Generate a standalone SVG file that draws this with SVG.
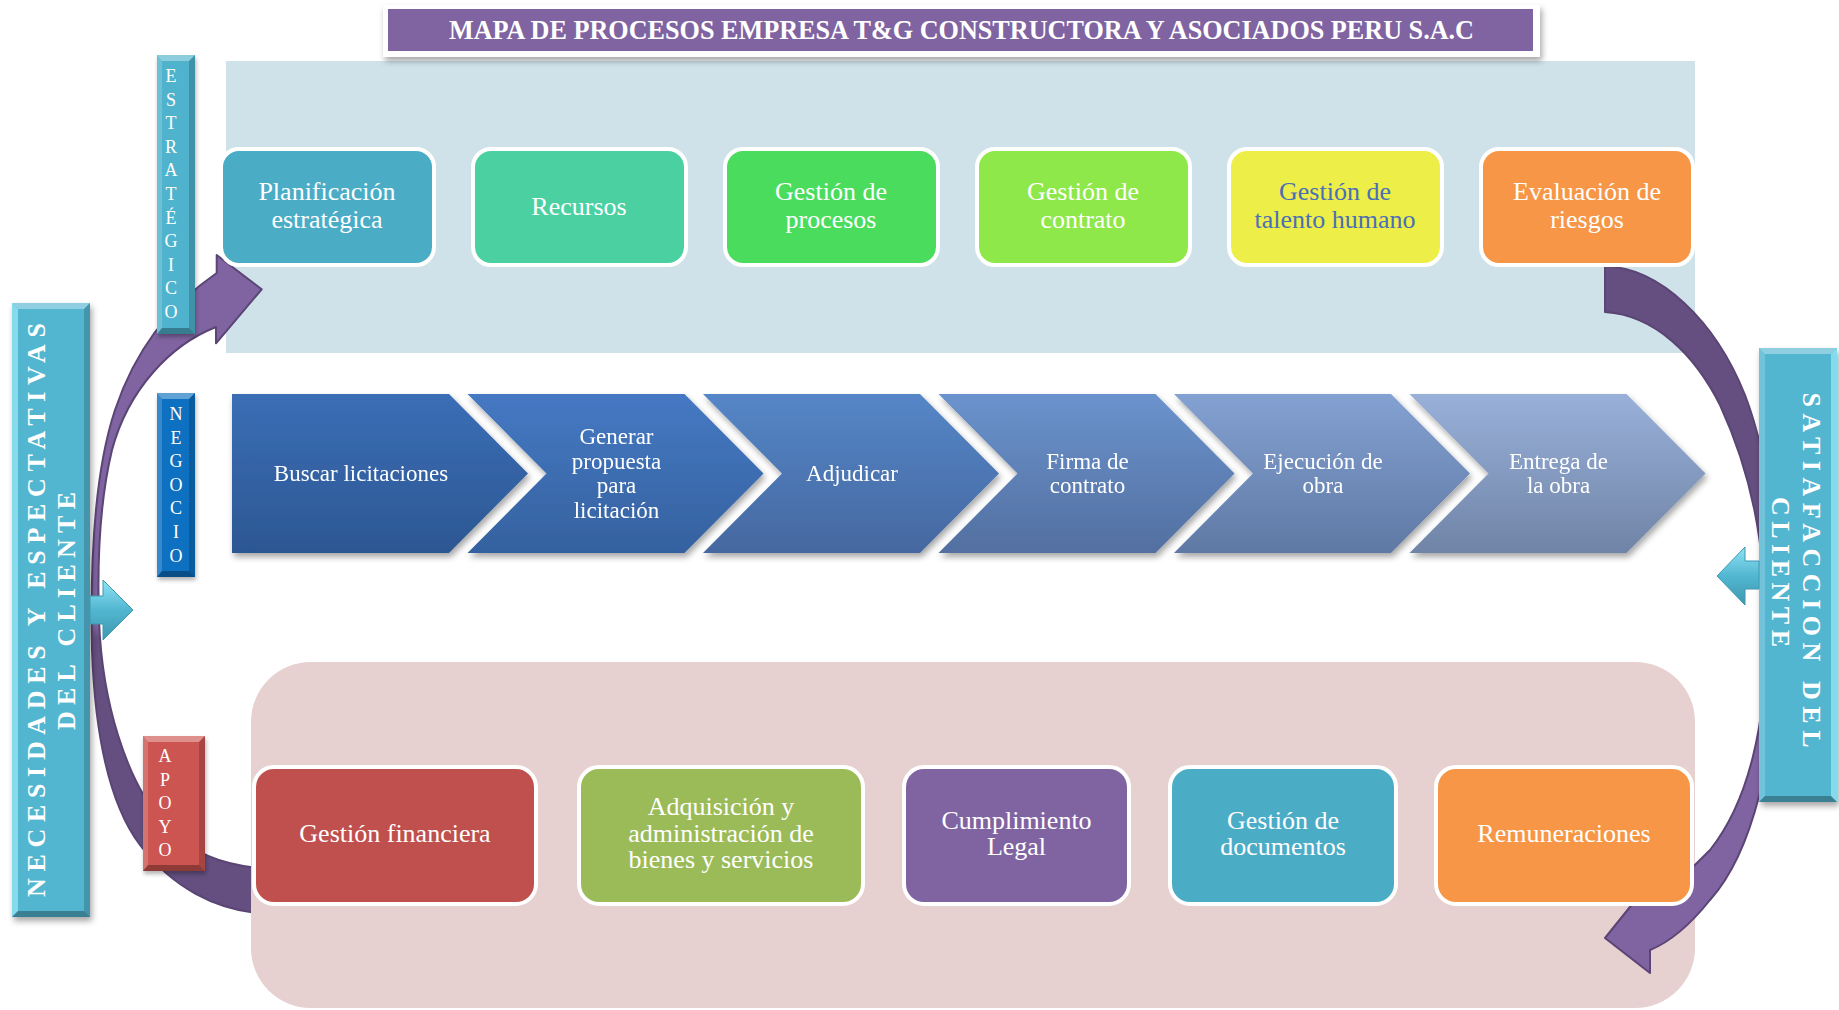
<svg xmlns="http://www.w3.org/2000/svg" width="1839" height="1010" viewBox="0 0 1839 1010">
<defs>
<style>
.t{font-family:"Liberation Serif","Times New Roman",serif;fill:#fff;text-anchor:middle}
.s26{font-size:26px}
.s23{font-size:23px}
.lab{font-size:18px}
.bar{font-size:26px;font-weight:bold}
.box{stroke:#fff;stroke-width:4}
.hl{fill:#fff;fill-opacity:.35}
.hl2{fill:#fff;fill-opacity:.18}
.dk{fill:#000;fill-opacity:.18}
.dk2{fill:#000;fill-opacity:.3}
.arc{stroke:#5a4574;stroke-width:2;stroke-linejoin:round}
</style>
<filter id="sh" x="-20%" y="-20%" width="140%" height="140%"><feDropShadow dx="2" dy="4" stdDeviation="3" flood-color="#000" flood-opacity=".35"/></filter>
<filter id="shs" x="-20%" y="-20%" width="140%" height="140%"><feDropShadow dx="1" dy="3" stdDeviation="2" flood-color="#000" flood-opacity=".3"/></filter>
<linearGradient id="c1" x1="0" y1="0" x2="0" y2="1"><stop offset="0" stop-color="#3b6eb6"/><stop offset="1" stop-color="#2c5792"/></linearGradient>
<linearGradient id="c2" x1="0" y1="0" x2="0" y2="1"><stop offset="0" stop-color="#4579c3"/><stop offset="1" stop-color="#35619f"/></linearGradient>
<linearGradient id="c3" x1="0" y1="0" x2="0" y2="1"><stop offset="0" stop-color="#5586c7"/><stop offset="1" stop-color="#4568a0"/></linearGradient>
<linearGradient id="c4" x1="0" y1="0" x2="0" y2="1"><stop offset="0" stop-color="#6b93cd"/><stop offset="1" stop-color="#526fa0"/></linearGradient>
<linearGradient id="c5" x1="0" y1="0" x2="0" y2="1"><stop offset="0" stop-color="#83a1d2"/><stop offset="1" stop-color="#5f79a4"/></linearGradient>
<linearGradient id="c6" x1="0" y1="0" x2="0" y2="1"><stop offset="0" stop-color="#99b0d9"/><stop offset="1" stop-color="#6f84a6"/></linearGradient>
<linearGradient id="gL" gradientUnits="userSpaceOnUse" x1="0" y1="250" x2="0" y2="920"><stop offset="0" stop-color="#8064a2"/><stop offset=".56" stop-color="#8064a2"/><stop offset=".58" stop-color="#644f80"/><stop offset="1" stop-color="#644f80"/></linearGradient>
<linearGradient id="gR" gradientUnits="userSpaceOnUse" x1="0" y1="260" x2="0" y2="980"><stop offset="0" stop-color="#644f80"/><stop offset=".62" stop-color="#644f80"/><stop offset=".66" stop-color="#8064a2"/><stop offset="1" stop-color="#8064a2"/></linearGradient>
<linearGradient id="cy" x1="0" y1="0" x2="0" y2="1"><stop offset="0" stop-color="#8fe4f6"/><stop offset=".5" stop-color="#52b6d0"/><stop offset="1" stop-color="#3f98b0"/></linearGradient>
</defs>

<rect id="bg-estrategico" x="226" y="61" width="1469" height="292" fill="#d0e2e9"/>

<g id="connectors">
<path id="arc-left" class="arc" fill="url(#gL)" d="M216.7,273 L216.7,255 L261.7,289.3 L216,343.3 L216,327 C170,345 128,390 112,450 C100,500 97,560 99,620 C102,700 125,780 165,825 C190,852 220,866 270,869 L270,914 C215,912 170,885 140,845 C110,805 95,735 92,650 C90,560 95,470 115,410 C135,350 170,305 216.7,273 Z"/>
</g>

<rect id="bg-apoyo" x="251" y="662" width="1444" height="346" rx="60" fill="#e6d0d0"/>

<g id="connectors-2">
<path id="arc-right" class="arc" fill="url(#gR)" d="M1605,266 C1660,268 1715,320 1745,395 C1770,460 1782,560 1778,660 C1774,750 1755,850 1710,900 C1690,925 1670,942 1650,950 L1650,973 L1605,938 L1650,882 L1652,900 C1668,892 1690,870 1710,850 C1750,800 1766,720 1766,640 C1766,540 1750,470 1720,405 C1695,355 1655,315 1605,312 Z"/>
</g>

<g id="estrategico-nodes">
<g id="n-planificacion"><rect class="box" x="221" y="149" width="213" height="116" rx="18" fill="#4bacc6"/><text class="t s26" x="327" y="200">Planificación</text><text class="t s26" x="327" y="228">estratégica</text></g>
<g id="n-recursos"><rect class="box" x="473" y="149" width="213" height="116" rx="18" fill="#4bd1a1"/><text class="t s26" x="579" y="215">Recursos</text></g>
<g id="n-procesos"><rect class="box" x="725" y="149" width="213" height="116" rx="18" fill="#4adc5c"/><text class="t s26" x="831" y="200">Gestión de</text><text class="t s26" x="831" y="228">procesos</text></g>
<g id="n-contrato"><rect class="box" x="977" y="149" width="213" height="116" rx="18" fill="#8fe84a"/><text class="t s26" x="1083" y="200">Gestión de</text><text class="t s26" x="1083" y="228">contrato</text></g>
<g id="n-talento"><rect class="box" x="1229" y="149" width="213" height="116" rx="18" fill="#eeee48"/><text class="t s26" x="1335" y="200" style="fill:#4a6fb5">Gestión de</text><text class="t s26" x="1335" y="228" style="fill:#4a6fb5">talento humano</text></g>
<g id="n-riesgos"><rect class="box" x="1481" y="149" width="212" height="116" rx="18" fill="#f79646"/><text class="t s26" x="1587" y="200">Evaluación de</text><text class="t s26" x="1587" y="228">riesgos</text></g>
</g>

<g id="negocio-nodes" filter="url(#sh)">
<g id="n-buscar"><path d="M232,394 L449,394 L528,473.5 L449,553 L232,553 Z" fill="url(#c1)"/><text class="t s23" x="361" y="481">Buscar licitaciones</text></g>
<g id="n-generar"><path d="M467.5,394 L684.5,394 L763.5,473.5 L684.5,553 L467.5,553 L546.5,473.5 Z" fill="url(#c2)"/><text class="t s23" x="616.5" y="444">Generar</text><text class="t s23" x="616.5" y="468.5">propuesta</text><text class="t s23" x="616.5" y="493">para</text><text class="t s23" x="616.5" y="517.5">licitación</text></g>
<g id="n-adjudicar"><path d="M703,394 L920,394 L999,473.5 L920,553 L703,553 L782,473.5 Z" fill="url(#c3)"/><text class="t s23" x="852" y="481">Adjudicar</text></g>
<g id="n-firma"><path d="M938.5,394 L1155.5,394 L1234.5,473.5 L1155.5,553 L938.5,553 L1017.5,473.5 Z" fill="url(#c4)"/><text class="t s23" x="1087.5" y="469">Firma de</text><text class="t s23" x="1087.5" y="493">contrato</text></g>
<g id="n-ejecucion"><path d="M1174,394 L1391,394 L1470,473.5 L1391,553 L1174,553 L1253,473.5 Z" fill="url(#c5)"/><text class="t s23" x="1323" y="469">Ejecución de</text><text class="t s23" x="1323" y="493">obra</text></g>
<g id="n-entrega"><path d="M1409.5,394 L1626.5,394 L1705.5,473.5 L1626.5,553 L1409.5,553 L1488.5,473.5 Z" fill="url(#c6)"/><text class="t s23" x="1558.5" y="469">Entrega de</text><text class="t s23" x="1558.5" y="493">la obra</text></g>
</g>

<g id="apoyo-nodes">
<g id="n-financiera"><rect class="box" x="254" y="767" width="282" height="137" rx="20" fill="#c0504d"/><text class="t s26" x="395" y="842">Gestión financiera</text></g>
<g id="n-adquisicion"><rect class="box" x="579" y="767" width="284" height="137" rx="20" fill="#9bbb59"/><text class="t s26" x="721" y="815">Adquisición y</text><text class="t s26" x="721" y="841.5">administración de</text><text class="t s26" x="721" y="868">bienes y servicios</text></g>
<g id="n-legal"><rect class="box" x="904" y="767" width="225" height="137" rx="20" fill="#8064a2"/><text class="t s26" x="1016.5" y="828.5">Cumplimiento</text><text class="t s26" x="1016.5" y="855">Legal</text></g>
<g id="n-documentos"><rect class="box" x="1170" y="767" width="226" height="137" rx="20" fill="#4bacc6"/><text class="t s26" x="1283" y="828.5">Gestión de</text><text class="t s26" x="1283" y="855">documentos</text></g>
<g id="n-remuneraciones"><rect class="box" x="1436" y="767" width="256" height="137" rx="20" fill="#f79646"/><text class="t s26" x="1564" y="842">Remuneraciones</text></g>
</g>

<g id="label-estrategico">
<g filter="url(#shs)"><rect x="157" y="55" width="38" height="279" fill="#4fb3cd"/></g>
<polygon class="hl" points="157,55 195,55 189,61 162,61"/>
<polygon class="hl2" points="157,55 162,61 162,328 157,334"/>
<polygon class="dk" points="195,55 195,334 189,328 189,61"/>
<polygon class="dk2" points="157,334 162,328 189,328 195,334"/>
<text class="t lab" x="171"><tspan x="171" y="82">E</tspan><tspan x="171" y="105.6">S</tspan><tspan x="171" y="129.2">T</tspan><tspan x="171" y="152.8">R</tspan><tspan x="171" y="176.4">A</tspan><tspan x="171" y="200">T</tspan><tspan x="171" y="223.6">É</tspan><tspan x="171" y="247.2">G</tspan><tspan x="171" y="270.8">I</tspan><tspan x="171" y="294.4">C</tspan><tspan x="171" y="318">O</tspan></text>
</g>

<g id="label-negocio">
<g filter="url(#shs)"><rect x="157" y="393" width="38" height="184" fill="#0e70c0"/></g>
<polygon class="hl" points="157,393 195,393 189,399 162,399"/>
<polygon class="hl2" points="157,393 162,399 162,571 157,577"/>
<polygon class="dk" points="195,393 195,577 189,571 189,399"/>
<polygon class="dk2" points="157,577 162,571 189,571 195,577"/>
<text class="t lab"><tspan x="176" y="420">N</tspan><tspan x="176" y="443.6">E</tspan><tspan x="176" y="467.2">G</tspan><tspan x="176" y="490.8">O</tspan><tspan x="176" y="514.4">C</tspan><tspan x="176" y="538">I</tspan><tspan x="176" y="561.6">O</tspan></text>
</g>

<g id="label-apoyo">
<g filter="url(#shs)"><rect x="143" y="736" width="62" height="135" fill="#cc5451"/></g>
<polygon class="hl" points="143,736 205,736 199,742 148,742"/>
<polygon class="hl2" points="143,736 148,742 148,865 143,871"/>
<polygon class="dk" points="205,736 205,871 199,865 199,742"/>
<polygon class="dk2" points="143,871 148,865 199,865 205,871"/>
<text class="t lab"><tspan x="165" y="762">A</tspan><tspan x="165" y="785.6">P</tspan><tspan x="165" y="809.2">O</tspan><tspan x="165" y="832.8">Y</tspan><tspan x="165" y="856.4">O</tspan></text>
</g>

<g id="n-necesidades">
<g filter="url(#sh)"><rect x="12" y="303" width="78" height="614" fill="#52b6d1"/></g>
<polygon class="hl" points="12,303 90,303 84,309 18,309"/>
<polygon fill="#9be9f8" fill-opacity=".7" points="12,303 18,309 18,911 12,917"/>
<polygon class="dk" points="90,303 90,917 84,911 84,309"/>
<polygon class="dk2" points="12,917 18,911 84,911 90,917"/>
<text class="t bar" transform="translate(45,610) rotate(-90)" textLength="574" lengthAdjust="spacing">NECESIDADES Y ESPECTATIVAS</text>
<text class="t bar" transform="translate(75,611) rotate(-90)" textLength="238" lengthAdjust="spacing">DEL CLIENTE</text>
<polygon fill="url(#cy)" stroke="#3f98b0" stroke-width="1" points="90,596 103,596 103,580 133,610 103,640 103,624 90,624"/>
</g>

<g id="n-satisfaccion">
<g filter="url(#sh)"><rect x="1759" y="348" width="78" height="454" fill="#52b6d1"/></g>
<polygon class="hl" points="1759,348 1837,348 1831,354 1765,354"/>
<polygon class="hl2" points="1759,348 1765,354 1765,796 1759,802"/>
<polygon fill="#9be9f8" fill-opacity=".7" points="1837,348 1837,802 1831,796 1831,354"/>
<polygon class="dk2" points="1759,802 1765,796 1831,796 1837,802"/>
<text class="t bar" transform="translate(1803,570) rotate(90)" textLength="355" lengthAdjust="spacing">SATIAFACCION DEL</text>
<text class="t bar" transform="translate(1772,572) rotate(90)" textLength="150" lengthAdjust="spacing">CLIENTE</text>
<polygon fill="url(#cy)" stroke="#3f98b0" stroke-width="1" points="1759,561 1745,561 1745,547 1717,576 1745,605 1745,589 1759,589"/>
</g>

<g id="title">
<g filter="url(#sh)"><rect x="383" y="5" width="1157" height="52" fill="#fff"/></g>
<rect x="388" y="9" width="1145" height="42" fill="#8064a2"/>
<text class="t" x="449" y="39" style="text-anchor:start;font-size:28px;font-weight:bold" textLength="1025" lengthAdjust="spacingAndGlyphs">MAPA DE PROCESOS EMPRESA T&amp;G CONSTRUCTORA Y ASOCIADOS PERU S.A.C</text>
</g>
</svg>
